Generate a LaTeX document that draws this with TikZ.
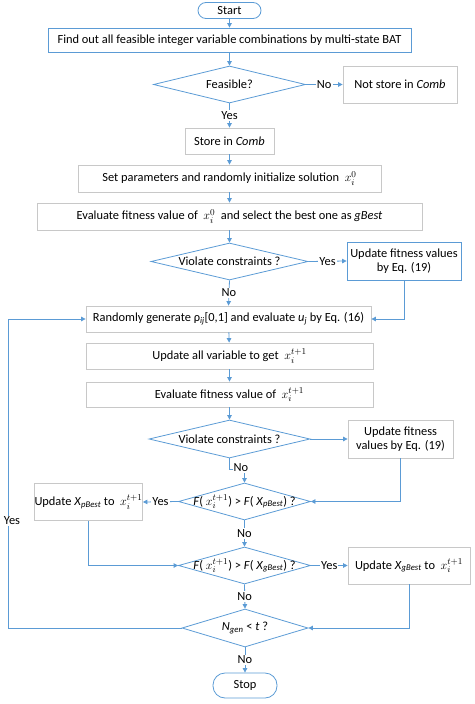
\documentclass[tikz,border=0pt]{standalone}
\usepackage{fontspec}
\setmainfont{Carlito}
\usetikzlibrary{shapes.geometric,arrows.meta,calc}
\definecolor{lblue}{RGB}{91,155,213}
\definecolor{lgray}{RGB}{200,200,200}
\newcommand{\sbs}[1]{\textsubscript{\textit{#1}}}
\begin{document}
\begin{tikzpicture}[x=1pt,y=-1pt,
  font=\fontsize{12.4}{14}\selectfont,
  line width=0.8pt,
  gbox/.style={draw=lgray,rectangle,inner sep=0pt,align=center},
  bbox/.style={draw=lblue,rectangle,inner sep=0pt,align=center},
  dia/.style={draw=lblue,diamond,inner sep=0pt},
  term/.style={draw=lblue,rectangle,rounded corners=8pt,inner sep=0pt},
  arr/.style={draw=lblue,-{Triangle[length=4.5pt,width=4.5pt]}},
  ln/.style={draw=lblue},
  lab/.style={fill=white,inner sep=1pt}]
\useasboundingbox (0,0) rectangle (474,704);
\node[term,minimum width=63pt,minimum height=16pt] (start) at (229.5,10.5) {Start};
\node[bbox,minimum width=363pt,minimum height=24pt] (find) at (229.5,40) {Find out all feasible integer variable combinations by multi-state BAT};
\node[dia,minimum width=152pt,minimum height=37pt] (feas) at (229.5,84.5) {\makebox[0pt]{Feasible?}};
\node[gbox,minimum width=114pt,minimum height=37pt] (notstore) at (400,84.5) {Not store in \textit{Comb}};
\node[gbox,minimum width=89pt,minimum height=26pt] (store) at (229.5,141) {Store in \textit{Comb}};
\node[gbox,minimum width=303pt,minimum height=27pt] (setp) at (229.5,178.5) {Set parameters and randomly initialize solution \ $x_i^0$};
\node[gbox,minimum width=385pt,minimum height=27pt] (eval) at (229.5,216.5) {Evaluate fitness value of \ $x_i^0$ \ and select the best one as \textit{gBest}};
\node[dia,minimum width=157pt,minimum height=37pt] (viol1) at (229.5,261.5) {\makebox[0pt]{Violate constraints ?}};
\node[bbox,minimum width=114pt,minimum height=38pt] (upd1) at (404,261) {Update fitness values\\by Eq. (19)};
\node[gbox,minimum width=285pt,minimum height=26pt] (rand) at (228.5,319) {Randomly generate ρ\sbs{ij}[0,1] and evaluate \textit{u}\sbs{j} by Eq. (16)};
\node[gbox,minimum width=287pt,minimum height=26pt] (updall) at (229.5,356) {Update all variable to get \ $x_i^{t+1}$};
\node[gbox,minimum width=287pt,minimum height=25pt] (evalf) at (229.5,394.5) {Evaluate fitness value of \ $x_i^{t+1}$};
\node[dia,minimum width=161pt,minimum height=38pt] (viol2) at (229.5,439) {\makebox[0pt]{Violate constraints ?}};
\node[gbox,minimum width=105pt,minimum height=38pt] (upd2) at (400.5,439) {Update fitness\\values by Eq. (19)};
\node[dia,minimum width=132pt,minimum height=37pt] (fp) at (244.5,501.5) {\makebox[0pt]{\textit{F}( $x_i^{t+1}$) > \textit{F}( \textit{X}\sbs{pBest}) ?}};
\node[gbox,minimum width=105pt,minimum height=37pt] (xpbest) at (88.5,502) {Update \textit{X}\sbs{pBest} to \ $x_i^{t+1}$};
\node[dia,minimum width=132pt,minimum height=37pt] (fg) at (244.5,565.5) {\makebox[0pt]{\textit{F}( $x_i^{t+1}$) > \textit{F}( \textit{X}\sbs{gBest}) ?}};
\node[gbox,minimum width=122pt,minimum height=37pt] (xgbest) at (409,565.5) {Update \textit{X}\sbs{gBest} to \ $x_i^{t+1}$};
\node[dia,minimum width=126pt,minimum height=38pt] (ngen) at (245,628) {\makebox[0pt]{\textit{N}\sbs{gen} < \textit{t} ?}};
\node[term,minimum width=64pt,minimum height=25pt,rounded corners=12pt] (stop) at (245,685.5) {Stop};
\coordinate (cv) at (229.5,469);
\coordinate (cl) at (8,628);
% connectors
\draw[arr] (start) -- (find);
\draw[arr] (find) -- (feas);
\draw[arr] (feas.east) -- node[lab] (lno1) {No} (notstore.west);
\draw[arr] (feas.south) -- node[lab] (lyes1) {Yes} (store.north);
\draw[arr] (store) -- (setp);
\draw[arr] (setp) -- (eval);
\draw[arr] (eval) -- (viol1);
\draw[arr] (viol1.east) -- node[lab] (lyes2) {Yes} (upd1.west);
\draw[arr] (viol1.south) -- node[lab] (lno2) {No} (rand.north);
\draw[arr] (upd1.south) |- (rand.east);
\draw[arr] (rand) -- (updall);
\draw[arr] (updall) -- (evalf);
\draw[arr] (evalf) -- (viol2);
\draw[arr] (viol2.east) -- (upd2.west);
\draw[arr] (viol2.south) -- (cv) -| (fp.north);
\node[lab] (lno3) at (241,468) {No};
\draw[arr] (upd2.south) |- (fp.east);
\draw[arr] (fp.west) -- node[lab] (lyes3) {Yes} (xpbest.east);
\draw[arr] (xpbest.south) |- (fg.west);
\draw[arr] (fp.south) -- node[lab] (lno4) {No} (fg.north);
\draw[arr] (fg.east) -- node[lab] (lyes4) {Yes} (xgbest.west);
\draw[arr] (xgbest.south) |- (ngen.east);
\draw[arr] (fg.south) -- node[lab] (lno5) {No} (ngen.north);
\draw[arr] (ngen.south) -- node[lab] (lno6) {No} (stop.north);
\draw[arr] (ngen.west) -- (cl) |- (rand.west);
\node[lab] (lyes5) at (12,521) {Yes};
\end{tikzpicture}
\end{document}
